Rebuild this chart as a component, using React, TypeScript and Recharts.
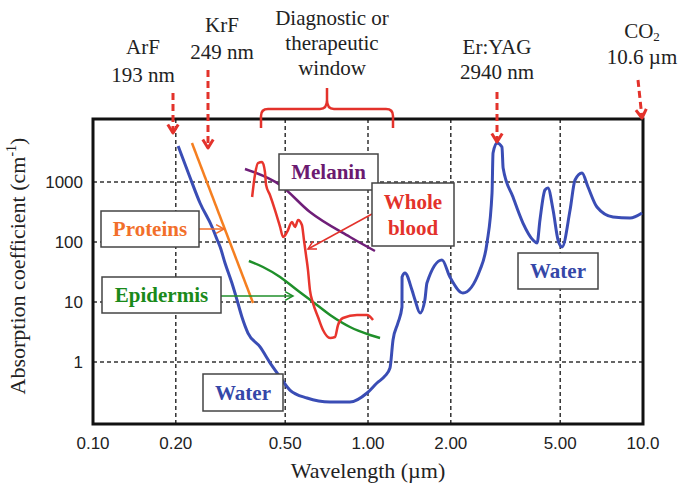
import {
  CartesianGrid,
  Line,
  LineChart,
  ReferenceArea,
  XAxis,
  YAxis,
} from "recharts";

// wavelength in µm, absorption coefficient in cm^-1
const waterWavelength = [
  0.204, 0.225, 0.245, 0.271, 0.283, 0.29, 0.302, 0.32, 0.334, 0.348, 0.366,
  0.405, 0.441, 0.479, 0.52, 0.6, 0.728, 0.86, 0.992, 1.078, 1.153, 1.202,
  1.233, 1.285, 1.329, 1.33, 1.363, 1.445, 1.483, 1.546, 1.61, 1.638, 1.858,
  1.986, 2.214, 2.553, 2.708, 2.825, 2.849, 2.944, 3.07, 3.1, 3.367, 3.66,
  3.98, 4.12, 4.22, 4.4, 4.51, 4.71, 4.91, 5.08, 5.43, 5.66, 6.0, 6.31, 6.8,
  7.78, 8.97, 9.92,
];
const waterAbsorption = [
  3981, 1212, 447, 178, 108, 82.5, 44.7, 20.7, 10.8, 5.62, 3.04, 1.78, 0.96,
  0.562, 0.341, 0.251, 0.215, 0.215, 0.304, 0.447, 0.585, 0.794, 2.33, 4.47,
  8.25, 26.1, 30.4, 15.8, 10.8, 6.55, 10.8, 20.7, 50.1, 26.1, 14.1, 34.1,
  96.3, 656, 3043, 4467, 3831, 1711, 562, 207, 108, 96.3, 233, 736, 794, 341,
  108, 82.5, 341, 1080, 1413, 825, 383, 261, 251, 304,
];

const proteinWavelength = [0.229, 0.382];
const proteinAbsorption = [4467, 9.6];

const melaninWavelength = [0.357, 0.479, 0.615, 0.86, 1.06];
const melaninAbsorption = [1648, 891, 316, 121, 70.8];

const bloodWavelength = [
  0.379, 0.388, 0.398, 0.412, 0.422, 0.426, 0.44, 0.459, 0.479, 0.491, 0.508,
  0.529, 0.543, 0.557, 0.575, 0.585, 0.595, 0.605, 0.615, 0.631, 0.658, 0.686,
  0.728, 0.759, 0.778, 0.811, 0.912, 0.992, 1.043,
];
const bloodAbsorption = [
  562, 1308, 2073, 2154, 1468, 891, 607, 341, 178, 121, 147, 215, 178, 233,
  192, 108, 60.7, 34.1, 15.8, 9.6, 5.62, 3.41, 2.51, 2.61, 4.14, 5.41, 6.07,
  6.07, 5.01,
];

const epidermisWavelength = [0.369, 0.415, 0.479, 0.552, 0.631, 0.728, 0.86, 1.017, 1.106];
const epidermisAbsorption = [48.3, 38.3, 26.1, 15.8, 10, 6.07, 3.83, 2.82, 2.51];

const xTicks = [0.1, 0.2, 0.5, 1, 2, 5, 10];
const xTickLabels = ["0.10", "0.20", "0.50", "1.00", "2.00", "5.00", "10.0"];
const yTicks = [1, 10, 100, 1000];

const X_MIN = 0.1;
const X_MAX = 10;
const Y_MIN = 0.0926;
const Y_MAX = 11220;

const toPoints = (xs: number[], ys: number[]) =>
  xs.map((x, i) => ({ x, y: ys[i] }));

const SERIF = '"Liberation Serif", "Times New Roman", serif';
const SANS = '"Liberation Sans", Arial, sans-serif';
const RED = "#e3322b";

function DownArrow({ x1, y1, x2, y2 }: { x1: number; y1: number; x2: number; y2: number }) {
  const ang = Math.atan2(y2 - y1, x2 - x1);
  const h = 10;
  const a1 = ang + Math.PI - 0.55;
  const a2 = ang + Math.PI + 0.55;
  return (
    <g stroke={RED} strokeWidth={3} fill="none">
      <line x1={x1} y1={y1} x2={x2} y2={y2} strokeDasharray="7 4" />
      <polyline
        points={`${x2 + h * Math.cos(a1)},${y2 + h * Math.sin(a1)} ${x2},${y2} ${x2 + h * Math.cos(a2)},${y2 + h * Math.sin(a2)}`}
        strokeLinejoin="round"
      />
    </g>
  );
}

function Pointer({ x1, y1, x2, y2, color }: { x1: number; y1: number; x2: number; y2: number; color: string }) {
  const ang = Math.atan2(y2 - y1, x2 - x1);
  const h = 9;
  const a1 = ang + Math.PI - 0.5;
  const a2 = ang + Math.PI + 0.5;
  return (
    <g stroke={color} strokeWidth={1.5} fill="none">
      <line x1={x1} y1={y1} x2={x2} y2={y2} />
      <polyline
        points={`${x2 + h * Math.cos(a1)},${y2 + h * Math.sin(a1)} ${x2},${y2} ${x2 + h * Math.cos(a2)},${y2 + h * Math.sin(a2)}`}
      />
    </g>
  );
}

function Box({ x, y, w, h, lines, color }: { x: number; y: number; w: number; h: number; lines: string[]; color: string }) {
  const cx = x + w / 2;
  const lh = 26;
  const start = y + h / 2 - ((lines.length - 1) * lh) / 2 + 7;
  return (
    <g>
      <rect x={x} y={y} width={w} height={h} fill="#fff" stroke="#444" strokeWidth={1.5} />
      {lines.map((t, i) => (
        <text
          key={t}
          x={cx}
          y={start + i * lh}
          textAnchor="middle"
          style={{ fontFamily: SERIF, fontWeight: 700, fontSize: 21, fill: color }}
        >
          {t}
        </text>
      ))}
    </g>
  );
}

function Annotations() {
  const txt = {
    style: { fontFamily: SERIF, fontSize: 21, fill: "#222" },
    textAnchor: "middle" as const,
  };
  const title = {
    style: { fontFamily: SERIF, fontSize: 22, fill: "#222" },
    textAnchor: "middle" as const,
  };
  return (
    <svg
      width={681}
      height={487}
      style={{ position: "absolute", left: 0, top: 0, pointerEvents: "none" }}
    >
      <text {...txt} x={143} y={54}>ArF</text>
      <text {...txt} x={143} y={82}>193 nm</text>
      <text {...txt} x={222} y={32}>KrF</text>
      <text {...txt} x={222} y={59}>249 nm</text>
      <text {...txt} x={332} y={25}>Diagnostic or</text>
      <text {...txt} x={332} y={50}>therapeutic</text>
      <text {...txt} x={332} y={75}>window</text>
      <text {...txt} x={497} y={54}>Er:YAG</text>
      <text {...txt} x={497} y={79}>2940 nm</text>
      <text {...txt} x={642} y={38}>
        CO<tspan style={{ fontSize: 13 }} dy={3}>2</tspan>
      </text>
      <text {...txt} x={642} y={64}>10.6 µm</text>

      <DownArrow x1={173} y1={93} x2={173} y2={133} />
      <DownArrow x1={208} y1={70} x2={208} y2={148} />
      <DownArrow x1={497} y1={92} x2={497} y2={142} />
      <DownArrow x1={638} y1={80} x2={642} y2={118} />

      <path
        d="M261,128 L261,116 Q261,109 268,109 L320,109 Q327,109 327,100 L327,88 M327,100 Q327,109 334,109 L386,109 Q393,109 393,116 L393,128"
        stroke={RED}
        strokeWidth={2.5}
        fill="none"
      />

      <Pointer x1={199} y1={229} x2={224} y2={229} color="#f26f2a" />
      <Pointer x1={221} y1={296} x2={293} y2={296} color="#1f8f2a" />
      <Pointer x1={372} y1={214} x2={308} y2={249} color={RED} />

      <Box x={279} y={154} w={99} h={36} lines={["Melanin"]} color="#6b1a70" />
      <Box x={372} y={183} w={82} h={63} lines={["Whole", "blood"]} color={RED} />
      <Box x={101} y={211} w={98} h={36} lines={["Proteins"]} color="#f26f2a" />
      <Box x={102} y={277} w={119} h={36} lines={["Epidermis"]} color="#1a8a1a" />
      <Box x={203} y={374} w={80} h={37} lines={["Water"]} color="#3547a8" />
      <Box x={518} y={253} w={80} h={36} lines={["Water"]} color="#3547a8" />

      <text {...title} x={368} y={478}>Wavelength (µm)</text>
      <text {...title} transform="translate(25,266) rotate(-90)" x={0} y={0}>
        Absorption coefficient (cm<tspan style={{ fontSize: 14 }} dy={-9}>-1</tspan>
        <tspan dy={9}>)</tspan>
      </text>
    </svg>
  );
}

export default function App() {
  return (
    <div
      style={{
        position: "absolute",
        left: 0,
        top: 0,
        width: 681,
        height: 487,
        background: "#fff",
      }}
    >
      <LineChart
        width={681}
        height={487}
        margin={{ top: 119, right: 38, bottom: 33, left: 33 }}
      >
        <CartesianGrid stroke="#333" strokeWidth={1.5} strokeDasharray="4 3" />
        <XAxis
          dataKey="x"
          type="number"
          scale="log"
          domain={[X_MIN, X_MAX]}
          allowDataOverflow
          ticks={xTicks}
          tickFormatter={(v: number) => xTickLabels[xTicks.indexOf(v)] ?? String(v)}
          axisLine={false}
          tickLine={false}
          tickSize={0}
          tickMargin={13}
          height={30}
          tick={{ fontFamily: SANS, fontSize: 17, fill: "#222" }}
          interval={0}
        />
        <YAxis
          type="number"
          scale="log"
          domain={[Y_MIN, Y_MAX]}
          allowDataOverflow
          ticks={yTicks}
          axisLine={false}
          tickLine={false}
          tickSize={0}
          tickMargin={10}
          width={60}
          tick={{ fontFamily: SANS, fontSize: 17, fill: "#222" }}
          interval={0}
        />
        <Line
          data={toPoints(proteinWavelength, proteinAbsorption)}
          dataKey="y"
          type="linear"
          stroke="#f57f20"
          strokeWidth={2.5}
          dot={false}
          isAnimationActive={false}
        />
        <Line
          data={toPoints(melaninWavelength, melaninAbsorption)}
          dataKey="y"
          type="monotone"
          stroke="#6f1e78"
          strokeWidth={2.5}
          dot={false}
          isAnimationActive={false}
        />
        <Line
          data={toPoints(epidermisWavelength, epidermisAbsorption)}
          dataKey="y"
          type="monotone"
          stroke="#1f8f2a"
          strokeWidth={2.5}
          dot={false}
          isAnimationActive={false}
        />
        <Line
          data={toPoints(bloodWavelength, bloodAbsorption)}
          dataKey="y"
          type="monotone"
          stroke="#e8352d"
          strokeWidth={2.5}
          dot={false}
          isAnimationActive={false}
        />
        <Line
          data={toPoints(waterWavelength, waterAbsorption)}
          dataKey="y"
          type="monotone"
          stroke="#3a4db5"
          strokeWidth={3}
          dot={false}
          isAnimationActive={false}
        />
        <ReferenceArea
          x1={X_MIN}
          x2={X_MAX}
          y1={Y_MIN}
          y2={Y_MAX}
          fill="none"
          fillOpacity={0}
          stroke="#111"
          strokeWidth={3}
        />
      </LineChart>
      <Annotations />
    </div>
  );
}
